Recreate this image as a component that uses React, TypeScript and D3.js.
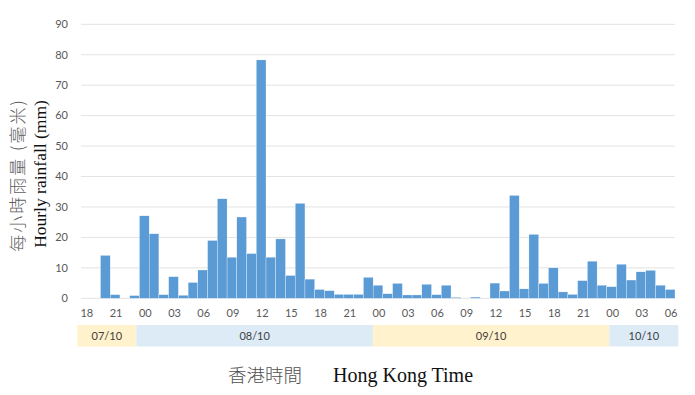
import React from "react";
import * as d3 from "d3";

const hours: string[] = [
  "18","19","20","21","22","23",
  "00","01","02","03","04","05","06","07","08","09","10","11","12","13","14","15","16","17","18","19","20","21","22","23",
  "00","01","02","03","04","05","06","07","08","09","10","11","12","13","14","15","16","17","18","19","20","21","22","23",
  "00","01","02","03","04","05","06",
];

const rainfall: number[] = [
  0, 0, 14.1, 1.2, 0, 0.9,
  27.1, 21.2, 1.2, 7.1, 1.0, 5.2, 9.3, 19.0, 32.7, 13.5, 26.7, 14.7, 78.3, 13.5, 19.5, 7.5, 31.2, 6.3, 2.9, 2.5, 1.3, 1.3, 1.3, 6.9,
  4.3, 1.5, 4.9, 1.1, 1.1, 4.6, 1.2, 4.3, 0.3, 0, 0.4, 0, 5.0, 2.4, 33.8, 3.1, 21.0, 4.9, 10.0, 2.1, 1.3, 5.8, 12.2, 4.3,
  3.8, 11.2, 6.0, 8.7, 9.2, 4.3, 2.9,
];

const dates: string[] = ["07/10", "08/10", "09/10", "10/10"];
const hoursPerDate: number[] = [6, 24, 24, 7];
const yTicks: number[] = [0, 10, 20, 30, 40, 50, 60, 70, 80, 90];

export default function App() {
  const W = 695, H = 395;
  const idx = rainfall.map((_, i) => i);
  const x = d3.scaleBand<number>().domain(idx).range([81, 675]).padding(0);
  const y = d3.scaleLinear().domain([0, 90]).range([298.3, 24.3]);
  const bandX = d3.scaleLinear().domain([0, rainfall.length]).range([77.3, 678.3]);

  const starts = d3.cumsum([0, ...hoursPerDate.slice(0, -1)]);
  const tickFont = "Lato, 'Open Sans', sans-serif";

  return (
    <svg width={W} height={H} style={{ position: "absolute", left: 0, top: 0, background: "#fff" }}>
      {yTicks.map((t) => (
        <g key={t}>
          <line x1={81} x2={675} y1={y(t)} y2={y(t)} stroke="#E3E3E3" strokeWidth={1} />
          <text x={68} y={y(t)} dy="0.35em" textAnchor="end" fontSize={11} fill="#595959" fontFamily={tickFont}>
            {t}
          </text>
        </g>
      ))}
      {rainfall.map((v, i) =>
        v > 0 ? (
          <rect
            key={i}
            x={x(i)!}
            y={y(v)}
            width={x.bandwidth()}
            height={y(0) - y(v)}
            fill="#5B9BD5"
            stroke="#ffffff"
            strokeWidth={0.3}
          />
        ) : null
      )}
      {hours.map((h, i) =>
        i % 3 === 0 ? (
          <text key={i} x={x(i)! + x.bandwidth() / 2 + 1} y={313.5} dy="0.35em" textAnchor="middle" fontSize={11} fill="#595959" fontFamily={tickFont}>
            {h}
          </text>
        ) : null
      )}
      {dates.map((d, k) => {
        const x0 = bandX(starts[k]);
        const x1 = bandX(starts[k] + hoursPerDate[k]);
        return (
          <g key={d}>
            <rect x={x0} y={325} width={x1 - x0} height={21.5} fill={k % 2 === 0 ? "#FFF2CC" : "#DDEBF7"} />
            <text x={(x0 + x1) / 2} y={336} dy="0.35em" textAnchor="middle" fontSize={11} fill="#404040" fontFamily={tickFont}>
              {d}
            </text>
          </g>
        );
      })}
      <text transform="translate(24,175) rotate(-90)" textAnchor="middle" fontSize={17} letterSpacing={2} fill="#606060" fontFamily="'Noto Sans CJK TC', sans-serif" fontWeight={300}>
        每小時雨量 (毫米)
      </text>
      <text transform="translate(46,174) rotate(-90)" textAnchor="middle" fontSize={17.5} fill="#111" fontFamily="'Liberation Serif', serif">
        Hourly rainfall (mm)
      </text>
      <text x={228} y={382} fontSize={18.5} fill="#505050" fontFamily="'Noto Sans CJK TC', sans-serif" fontWeight={300}>
        香港時間
      </text>
      <text x={333} y={382} fontSize={20} fill="#111" fontFamily="'Liberation Serif', serif">
        Hong Kong Time
      </text>
    </svg>
  );
}
